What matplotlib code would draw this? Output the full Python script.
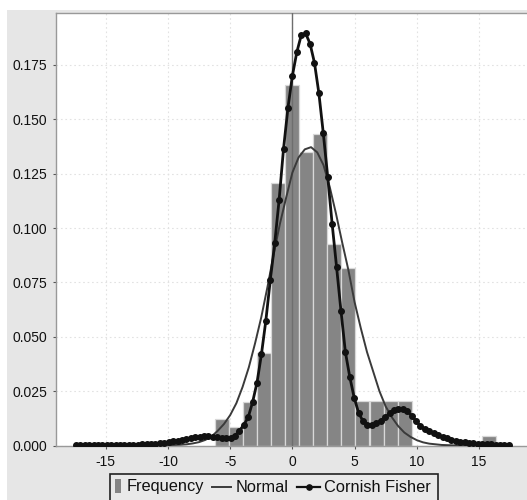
import numpy as np
import matplotlib
matplotlib.use("Agg")
import matplotlib.pyplot as plt
from matplotlib.patches import Rectangle
from matplotlib.lines import Line2D

plt.rcParams['font.family'] = ['Liberation Sans', 'DejaVu Sans']

# ---------------- data ----------------
bin_left = [-6.22, -5.09, -3.96, -2.83, -1.70, -0.58, 0.55, 1.68, 2.81, 3.94,
            5.07, 6.20, 7.33, 8.46, 9.59, 10.72, 11.84, 12.97, 14.10, 15.23]
bin_width = 1.129
frequency = [0.0121, 0.0087, 0.0202, 0.0426, 0.1205, 0.1660, 0.1352, 0.1434, 0.0927, 0.0815,
             0.0205, 0.0205, 0.0205, 0.0205, 0.0, 0.0, 0.0, 0.0, 0.0, 0.0044]

normal_x = [-17.4, -14.0, -12.0, -11.0, -10.0, -9.0, -8.5, -8.0, -7.5, -7.0, -6.5, -6.0, -5.5,
            -5.0, -4.5, -4.0, -3.5, -3.0, -2.5, -2.0, -1.5, -1.0, -0.5, 0.0, 0.5, 1.0,
            1.5, 2.0, 2.5, 3.0, 3.5, 4.0, 4.5, 5.0, 5.5, 6.0, 6.5, 7.0, 7.5, 8.0,
            8.5, 9.0, 9.5, 10.0, 10.5, 11.0, 12.0, 13.0, 14.0, 17.4]
normal_y = [0.0, 0.0, 0.0, 0.0001, 0.0002, 0.0004, 0.0006, 0.0010, 0.0016, 0.0026, 0.0042, 0.0068, 0.0099,
            0.0140, 0.0195, 0.0270, 0.0360, 0.0470, 0.0590, 0.0730, 0.0880, 0.1020, 0.1140, 0.1255, 0.1325, 0.1362,
            0.1372, 0.1348, 0.1290, 0.1190, 0.1068, 0.0935, 0.0808, 0.0660, 0.0540, 0.0430, 0.0340, 0.0250, 0.0180, 0.0130,
            0.0090, 0.0060, 0.0040, 0.0025, 0.0015, 0.0009, 0.0003, 0.0001, 0.0, 0.0]

cf_x = np.round(np.linspace(-17.4, 17.4, 99), 3)
cf_y = [0.0004, 0.0004, 0.0004, 0.0004, 0.0004, 0.0004, 0.0004, 0.0004, 0.0004, 0.0004,
        0.0004, 0.0004, 0.0004, 0.0005, 0.0005, 0.0006, 0.0007, 0.0008, 0.0009, 0.0011,
        0.0013, 0.0016, 0.0019, 0.0022, 0.0026, 0.0030, 0.0034, 0.0038, 0.0041, 0.0043,
        0.0043, 0.0041, 0.0038, 0.0035, 0.0033, 0.0035, 0.0045, 0.0068, 0.0095, 0.0130,
        0.0200, 0.0290, 0.0420, 0.0575, 0.0760, 0.0930, 0.1130, 0.1365, 0.1553, 0.1700,
        0.1808, 0.1886, 0.1895, 0.1848, 0.1760, 0.1620, 0.1436, 0.1235, 0.1020, 0.0822,
        0.0620, 0.0430, 0.0315, 0.0220, 0.0150, 0.0112, 0.0096, 0.0096, 0.0102, 0.0115,
        0.0130, 0.0148, 0.0162, 0.0168, 0.0166, 0.0158, 0.0138, 0.0112, 0.0090, 0.0075,
        0.0065, 0.0056, 0.0047, 0.0040, 0.0033, 0.0027, 0.0022, 0.0018, 0.0015, 0.0012,
        0.0010, 0.0009, 0.0008, 0.0007, 0.0006, 0.0005, 0.0005, 0.0004, 0.0004]

x_ticks = [-15, -10, -5, 0, 5, 10, 15]
y_ticks = [0.000, 0.025, 0.050, 0.075, 0.100, 0.125, 0.150, 0.175]
legend_labels = ["Frequency", "Normal", "Cornish Fisher"]

# ---------------- figure ----------------
W, H = 527, 500
bg = '#e6e6e6'
fig = plt.figure(figsize=(W / 100, H / 100), dpi=100, facecolor=bg)

# white margins at top and left of the image
fig.patches.append(Rectangle((0, 0), 7 / W, 1, transform=fig.transFigure,
                             facecolor='white', edgecolor='none', zorder=-5))
fig.patches.append(Rectangle((0, 1 - 10 / H), 1, 10 / H, transform=fig.transFigure,
                             facecolor='white', edgecolor='none', zorder=-5))

left_px, right_px, top_px, bottom_px = 55.5, 527, 13.4, 445.6
ax = fig.add_axes([left_px / W, 1 - bottom_px / H, (right_px - left_px) / W,
                   (bottom_px - top_px) / H])
ax.set_facecolor('white')

ax.set_xlim(-19.04, 18.86)
ax.set_ylim(0, 0.1987)

ax.grid(True, color='#e2e2e2', linestyle=(0, (1.5, 2.5)), linewidth=0.8)
ax.set_axisbelow(True)

ax.bar(bin_left, frequency, width=bin_width, align='edge', color='#858585',
       edgecolor='#d8d8d8', linewidth=0.9, zorder=2)

ax.axvline(0, color='#6e6e6e', linewidth=1.0, zorder=3)

ax.plot(normal_x, normal_y, color='#3a3a3a', linewidth=1.4, zorder=4)
ax.plot(cf_x, cf_y, color='#111111', linewidth=2.0, marker='o', markersize=4.0,
        markerfacecolor='#111111', markeredgecolor='#111111', zorder=5)

ax.set_xticks(x_ticks)
ax.set_xticklabels([str(t) for t in x_ticks])
ax.set_yticks(y_ticks)
ax.set_yticklabels([f"{t:.3f}" for t in y_ticks])
ax.tick_params(axis='both', labelsize=10, colors='#555555', labelcolor='#111111',
               length=2, width=0.8)
ax.tick_params(axis='y', pad=4)
ax.tick_params(axis='x', pad=5)
for lab in ax.get_xticklabels() + ax.get_yticklabels():
    lab.set_fontweight('medium')

for side in ['left', 'top', 'bottom']:
    ax.spines[side].set_color('#999999')
    ax.spines[side].set_linewidth(1.0)
ax.spines['right'].set_visible(False)

# ---------------- legend (drawn in figure pixels) ----------------
def fx(px):
    return px / W

def fy(py):
    return 1 - py / H

fig.patches.append(Rectangle((fx(109.5), fy(502)), fx(438) - fx(109.5), fy(473.5) - fy(502),
                             transform=fig.transFigure, facecolor='#e9e9e9',
                             edgecolor='#222222', linewidth=1.2, zorder=5))
fig.patches.append(Rectangle((fx(114.5), fy(493)), fx(120.5) - fx(114.5), fy(478.5) - fy(493),
                             transform=fig.transFigure, facecolor='#858585',
                             edgecolor='none', zorder=6))
ly = fy(486.5)
fig.lines.append(Line2D([fx(212), fx(231)], [ly, ly], transform=fig.transFigure,
                        color='#3a3a3a', linewidth=1.4, zorder=6))
fig.lines.append(Line2D([fx(297), fx(320)], [ly, ly], transform=fig.transFigure,
                        color='#111111', linewidth=1.6, zorder=6))
fig.lines.append(Line2D([fx(308.5)], [ly], transform=fig.transFigure, color='#111111',
                        marker='o', markersize=3.8, zorder=7))
ty = fy(487)
fig.text(fx(127), ty, legend_labels[0], fontsize=11.8, color='#111111', va='center', ha='left', zorder=7)
fig.text(fx(235.5), ty, legend_labels[1], fontsize=11.8, color='#111111', va='center', ha='left', zorder=7)
fig.text(fx(324), ty, legend_labels[2], fontsize=11.8, color='#111111', va='center', ha='left', zorder=7)

fig.savefig("out.png", dpi=100, facecolor=fig.get_facecolor())
